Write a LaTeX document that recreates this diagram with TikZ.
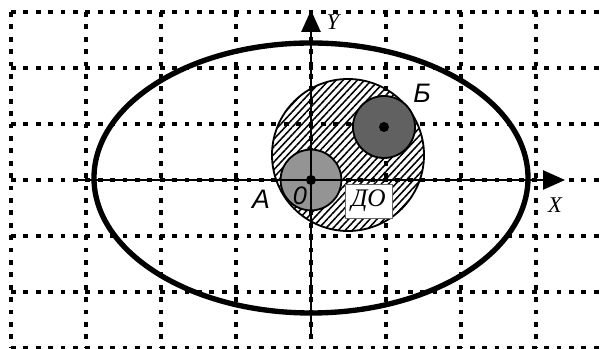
\documentclass[tikz,border=0pt]{standalone}
\usepackage{fontspec}
\setmainfont{Liberation Serif}
\setsansfont{Liberation Sans}
\usetikzlibrary{arrows.meta, patterns.meta}

\begin{document}
\begin{tikzpicture}[
  gridline/.style={line width=2.6pt, dash pattern=on 0.12cm off 0.19cm, black},
  axis/.style={line width=1.4pt, -{Triangle[length=5.5mm, width=4.8mm]}},
  zone/.style={circle, draw, line width=1.3pt, inner sep=0pt, minimum size=3.8cm,
    preaction={fill=white}, pattern={Lines[angle=47, distance=1.3mm, line width=1.1pt]}},
  disc/.style={circle, draw, line width=1.3pt, inner sep=0pt},
  dot/.style={circle, fill, inner sep=0pt, minimum size=0.25cm},
  tag/.style={draw=black!60, fill=white, line width=0.7pt, inner sep=0pt,
    minimum width=1.175cm, minimum height=0.85cm, font=\itshape\fontsize{18}{18}\selectfont},
  letter/.style={inner sep=0pt, font=\sffamily\itshape\fontsize{19}{19}\selectfont},
  axlabel/.style={inner sep=0pt, font=\itshape\fontsize{16}{16}\selectfont},
]
\useasboundingbox (-7.775,-4.225) rectangle (7.325,4.5);
\node[zone] (zone) at (0.925,0.625) {};
\foreach \i in {-4,...,3}{ \draw[gridline] (\i*1.875,4.2) -- (\i*1.875,-4.2); }
\foreach \j in {-3,...,3}{ \draw[gridline] (-7.5,\j*1.4) -- (7.4,\j*1.4); }
\draw[line width=3.8pt] (0,0.05) ellipse [x radius=5.425, y radius=3.375];
\node[disc, fill=black!42, minimum size=1.52cm] (discA) at (0,0) {};
\node[disc, fill=black!62, minimum size=1.55cm] (discB) at (1.825,1.325) {};
\coordinate (xs) at (-5.925,0);
\coordinate (xe) at (6.35,0);
\coordinate (ys) at (0,-3.875);
\coordinate (ye) at (0,4.25);
\draw[axis] (xs) -- (xe);
\draw[axis] (ys) -- (ye);
\node[dot] (O) at (discA.center) {};
\node[dot] (Bc) at (discB.center) {};
\node[tag] (do) at (1.4375,-0.525) {ДО};
\node[letter] (labB) at (2.775,2.175) {Б};
\node[letter] (labA) at (-1.25,-0.475) {А};
\node[inner sep=0pt, font=\sffamily\itshape\fontsize{18}{18}\selectfont] (lab0) at (-0.275,-0.4) {0};
\node[axlabel] (labX) at (6.1,-0.625) {X};
\node[axlabel] (labY) at (0.55,3.95) {Y};
\end{tikzpicture}
\end{document}
